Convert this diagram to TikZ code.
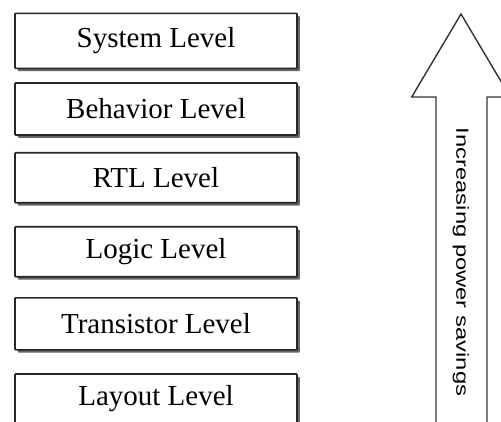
\documentclass[tikz,border=0pt]{standalone}
\usepackage{fontspec}
\setmainfont{Liberation Serif}
\newfontfamily\arrowfont{Liberation Sans}
\usetikzlibrary{shadows}
\begin{document}
\begin{tikzpicture}[x=1pt,y=-1pt,
  levelbox/.style={draw=black!85, line width=1.6pt, fill=white, rounded corners=0.8pt,
    minimum width=282pt, inner sep=0pt, font=\fontsize{29}{32}\selectfont,
    general shadow={fill=black!60, shadow xshift=2.8pt, shadow yshift=-2.8pt}},
  bigarrow/.style={draw=black!80, line width=1.4pt, fill=white, line join=miter}]
\useasboundingbox (0,0) rectangle (501,421);
\clip (0,0) rectangle (501,421);
\node[levelbox, minimum height=55pt] (sys) at (156,40.8) {System Level};
\node[levelbox, minimum height=52pt] (beh) at (156,109) {Behavior Level};
\node[levelbox, minimum height=50pt] (rtl) at (156,177.7) {RTL Level};
\node[levelbox, minimum height=50pt] (log) at (156,251.7) {Logic Level};
\node[levelbox, minimum height=52pt] (tra) at (156,323.8) {Transistor Level};
\node[levelbox, minimum height=50pt] (lay) at (156,399) {Layout Level};
\draw[bigarrow] (461,14) -- (411.7,97) -- (436,97) -- (436,440) -- (487,440) -- (487,97) -- (510.3,97) -- cycle;
\node[rotate=-90, inner sep=0pt, font=\arrowfont\fontsize{17.5}{20}\selectfont] (lbl) at (461,262)
  {\scalebox{1.36}[1]{Increasing power savings}};
\end{tikzpicture}
\end{document}
